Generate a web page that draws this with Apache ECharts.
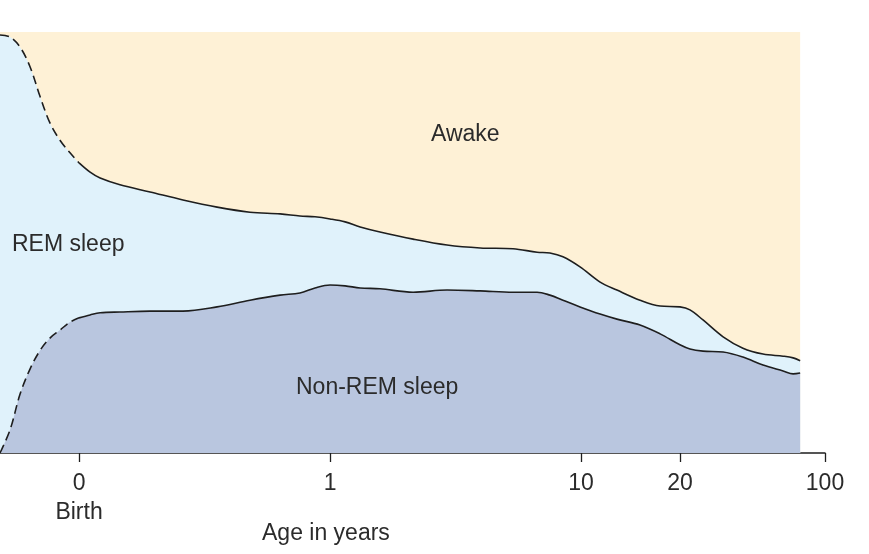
<!DOCTYPE html>
<html>
<head>
<meta charset="utf-8">
<script src="https://cdn.jsdelivr.net/npm/echarts@6/dist/echarts.min.js"></script>
<style>
html,body{margin:0;padding:0;background:#fff;}
#chart{width:869px;height:554px;}
</style>
</head>
<body>
<div id="chart"></div>
<script>
// Position on the stretched log age scale (0 = birth, 1 = 1 yr, 2 = 10 yrs, ...)
var agePos = [-0.315,-0.275,-0.235,-0.195,-0.155,-0.116,-0.076,-0.036,0,0.044,0.084,0.163,0.283,0.414,0.550,0.681,0.801,0.880,0.940,1.000,1.060,1.120,1.199,1.331,1.466,1.598,1.729,1.825,1.876,1.928,1.996,2.076,2.143,2.235,2.315,2.394,2.434,2.486,2.566,2.645,2.725,2.805,2.845,2.873];
// Share of the day (%) below the REM/Awake boundary (Non-REM + REM)
var sleepTotal = [99.3,98.8,96.4,91.7,84.6,78.4,74.3,71.3,68.9,66.7,65.3,63.7,62.0,60.1,58.4,57.2,56.8,56.3,56.1,55.6,54.9,53.7,52.5,50.8,49.4,48.7,48.5,47.7,47.5,46.6,44.2,40.6,38.7,36.3,34.9,34.7,34.0,31.6,27.6,24.9,23.5,23.0,22.6,21.9];
// Share of the day (%) in Non-REM sleep
var nonRem = [0,5.5,14.0,20.0,24.4,27.3,29.2,31.1,32.1,32.8,33.3,33.5,33.7,33.7,34.7,36.3,37.5,38.0,39.2,39.9,39.7,39.2,39.0,38.2,38.7,38.5,38.2,38.2,37.5,36.3,34.7,33.0,31.8,30.4,28.3,25.7,24.7,24.2,24.0,22.8,20.9,19.5,18.8,19.0];
var dayTotal = 100;
var tickPos = [0, 1, 2, 2.394, 2.972];
var tickLabels = ['0\nBirth', '1', '10', '20', '100'];
var areaNames = ['Awake', 'REM sleep', 'Non-REM sleep'];
var axisTitle = 'Age in years';

var colors = {awake:'#fef1d6', rem:'#e0f2fb', nrem:'#b9c6df', line:'#1e1e1e', text:'#2b2b2b'};
var FONT = '"Liberation Sans", Arial, Helvetica, sans-serif';

function pairs(ys, from, to) {
  var out = [];
  for (var i = 0; i < agePos.length; i++) {
    if (agePos[i] >= from && agePos[i] <= to) out.push([agePos[i], ys[i]]);
  }
  return out;
}
var awakeTop = agePos.map(function(){ return dayTotal; });
var SM = 0.35;
function area(name, ys, color, z) {
  return {type:'line', name:name, data:pairs(ys, -10, 10), smooth:SM, symbol:'none',
    lineStyle:{width:0, opacity:0}, areaStyle:{color:color, opacity:1}, z:z, silent:true};
}
function line(ys, from, to, dashed) {
  return {type:'line', data:pairs(ys, from, to), smooth:SM, symbol:'none', z:10, silent:true,
    lineStyle:{color:colors.line, width:1.6, type: dashed ? [9,5] : 'solid'}};
}

var chart = echarts.init(document.getElementById('chart'), null, {renderer:'canvas'});
chart.setOption({
  animation:false,
  backgroundColor:'#ffffff',
  grid:{left:0, right:44, top:32, bottom:101, containLabel:false},
  xAxis:{type:'value', min:-0.315, max:2.972,
    splitLine:{show:false},
    axisLine:{show:true, lineStyle:{color:'#1e1e1e', width:1.5}},
    axisTick:{show:true, customValues:tickPos, length:9, inside:false, lineStyle:{color:'#1e1e1e', width:1.3}},
    axisLabel:{show:true, customValues:tickPos, margin:16, color:colors.text, fontFamily:FONT, fontSize:23, lineHeight:29,
      formatter:function(v){ for (var i=0;i<tickPos.length;i++){ if (Math.abs(tickPos[i]-v)<1e-6) return tickLabels[i]; } return ''; }}
  },
  yAxis:{type:'value', min:0, max:100, show:false, splitLine:{show:false}},
  series:[
    area(areaNames[0], awakeTop, colors.awake, 1),
    area(areaNames[1], sleepTotal, colors.rem, 2),
    area(areaNames[2], nonRem, colors.nrem, 3),
    line(sleepTotal, -10, 0, true),
    line(sleepTotal, 0, 10, false),
    line(nonRem, -10, 0, true),
    line(nonRem, 0, 10, false)
  ],
  graphic:[
    {type:'text', left:431, top:123, style:{text:areaNames[0], fill:colors.text, font:'23px '+FONT}, z:100},
    {type:'text', left:12, top:233, style:{text:areaNames[1], fill:colors.text, font:'23px '+FONT}, z:100},
    {type:'text', left:296, top:376, style:{text:areaNames[2], fill:colors.text, font:'23px '+FONT}, z:100},
    {type:'text', left:262, top:522, style:{text:axisTitle, fill:colors.text, font:'23px '+FONT}, z:100}
  ]
});
</script>
</body>
</html>
